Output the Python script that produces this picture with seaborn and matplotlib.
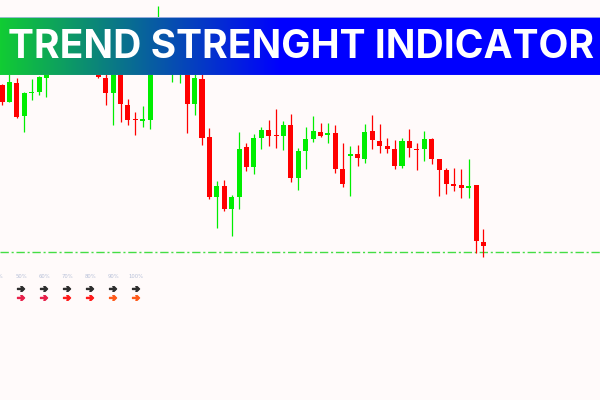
import matplotlib
matplotlib.use("Agg")
import matplotlib.pyplot as plt
import matplotlib.patheffects as pe
import numpy as np
import pandas as pd
import seaborn as sns

# candle prices (points), oldest first
opens = [215, 198, 217, 184, 207, 208, 222, 240, 255, 245, 265, 252, 260, 238, 222, 207, 240,
         195, 181, 179, 180, 255, 275, 238, 228, 250, 196, 221, 163, 103, 114, 91, 103, 153,
         133, 162, 170, 165, 164, 175, 122, 149, 161, 168, 165, 167, 131, 144, 146, 141, 169,
         159, 154, 151, 134, 159, 151, 151, 161, 141, 130, 116, 115, 112, 115, 58]
highs = [216, 232, 222, 208, 221, 224, 245, 260, 262, 270, 272, 268, 265, 245, 230, 245, 242,
         201, 188, 194, 260, 294, 280, 262, 255, 255, 226, 226, 172, 119, 120, 105, 168, 157,
         166, 173, 180, 191, 179, 186, 152, 173, 184, 177, 177, 175, 157, 154, 155, 176, 185,
         176, 162, 160, 162, 171, 157, 169, 162, 141, 132, 132, 131, 141, 115, 71]
lows = [195, 198, 182, 168, 200, 205, 203, 232, 238, 240, 245, 242, 232, 222, 195, 175, 178,
        175, 165, 173, 171, 250, 245, 218, 217, 167, 185, 155, 101, 72, 89, 64, 91, 129,
        126, 151, 154, 152, 150, 118, 110, 131, 158, 163, 157, 127, 113, 104, 134, 137, 151,
        147, 147, 131, 132, 143, 130, 139, 136, 104, 106, 109, 102, 102, 47, 43]
closes = [198, 218, 183, 207, 208, 223, 240, 255, 245, 265, 252, 260, 238, 223, 207, 240, 196,
          180, 180, 181, 255, 275, 260, 258, 250, 196, 222, 162, 103, 114, 91, 103, 151, 133,
          162, 170, 164, 164, 175, 122, 149, 161, 169, 164, 167, 131, 116, 146, 142, 168, 160,
          154, 151, 134, 159, 152, 150, 161, 141, 130, 116, 114, 112, 114, 59, 54]
support_level = 48

strength_labels = ["40%", "50%", "60%", "70%", "80%", "90%", "100%"]
signal_colors = ["#e8204a", "#e8204a", "#e8204a", "#ff1a1a", "#ff1a1a", "#ff5a1a", "#ff5a1a"]

title = "TREND STRENGHT INDICATOR"

df = pd.DataFrame({"open": opens, "high": highs, "low": lows, "close": closes})
df["bar"] = np.arange(len(df))
df["up"] = df["close"] >= df["open"]

sns.set_style("white")
bg = "#fffafa"
up_col, down_col = "#00ee00", "#ff0000"

fig = plt.figure(figsize=(6, 4), dpi=100, facecolor=bg)
ax = fig.add_axes([0, 0, 1, 1])
ax.set_facecolor(bg)
ax.set_xlim(-0.27, 80.73)
ax.set_ylim(-100, 300)
ax.axis("off")

colors = np.where(df["up"], up_col, down_col)
body_low = df[["open", "close"]].min(axis=1)
body_h = (df["open"] - df["close"]).abs().clip(lower=1)
ax.vlines(df["bar"], df["low"], df["high"], colors=colors, linewidth=0.9, zorder=2)
ax.bar(df["bar"], body_h, bottom=body_low, width=0.68, color=colors, linewidth=0, zorder=3)

ax.axhline(support_level, color="#44dd44", linewidth=1.0, linestyle=(0, (6, 2, 1.5, 2)), zorder=1)

# strength panel at bottom left (first column runs off the left edge)
for i, lab in enumerate(strength_labels):
    xf = (-2 + 23 * i) / 600
    fig.text(xf, 1 - 277 / 400, lab, fontsize=3.8, color="#b7c0d8", ha="center", va="center")
    if i == 0:
        continue
    for yp, col in [(289, "#2e2e2e"), (298, signal_colors[i])]:
        fig.text(xf, 1 - yp / 400, "\u2794", fontsize=7, color=col, ha="center", va="center",
                 path_effects=[pe.withStroke(linewidth=0.9, foreground=col)])

# gradient banner
bax = fig.add_axes([0, 1 - 75 / 400, 1, 58 / 400])
xs = np.arange(600)
c0 = np.array([17, 204, 51]) / 255
c1 = np.array([0, 0, 255]) / 255
f = np.clip(xs / 280, 0, 1)[:, None]
grad = (c0 * (1 - f) + c1 * f)[None, :, :]
bax.imshow(grad, aspect="auto", extent=[0, 600, 0, 1])
bax.set_xlim(0, 600)
bax.set_ylim(0, 1)
bax.axis("off")
bax.axhline(1, color="#b0bce8", linewidth=1.2)
bax.axhline(0, color="#b0bce8", linewidth=0.8)
t = bax.text(8, 0.48, title, fontsize=26, color="white", fontweight="bold",
             family=["Inter", "DejaVu Sans"], ha="left", va="center")
fig.canvas.draw()
w = t.get_window_extent(fig.canvas.get_renderer()).width
t.set_fontsize(26 * 586 / w)

fig.savefig("out.png", dpi=100, facecolor=bg)
